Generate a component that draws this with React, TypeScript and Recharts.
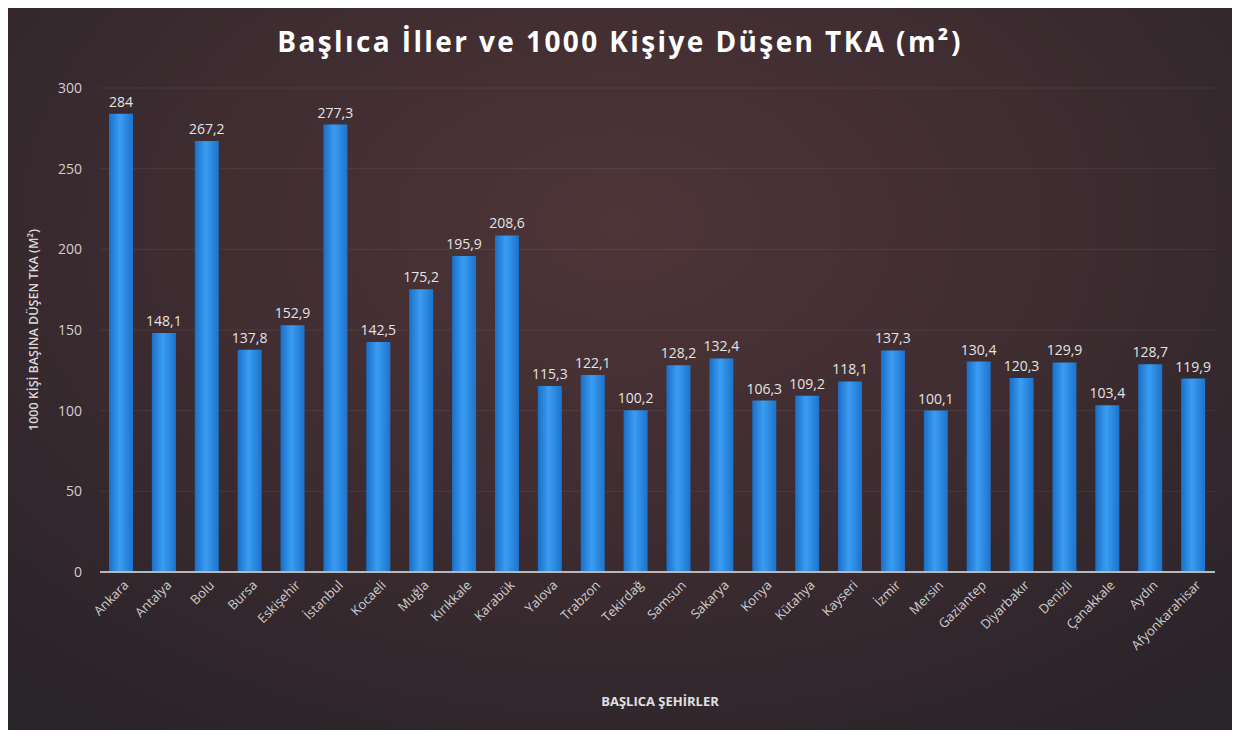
import { BarChart, Bar, XAxis, YAxis, CartesianGrid, LabelList } from 'recharts';

const CITIES = [
  'Ankara', 'Antalya', 'Bolu', 'Bursa', 'Eskişehir', 'İstanbul', 'Kocaeli', 'Muğla', 'Kırıkkale',
  'Karabük', 'Yalova', 'Trabzon', 'Tekirdağ', 'Samsun', 'Sakarya', 'Konya', 'Kütahya', 'Kayseri',
  'İzmir', 'Mersin', 'Gaziantep', 'Diyarbakır', 'Denizli', 'Çanakkale', 'Aydın', 'Afyonkarahisar',
];
const TKA = [
  284, 148.1, 267.2, 137.8, 152.9, 277.3, 142.5, 175.2, 195.9,
  208.6, 115.3, 122.1, 100.2, 128.2, 132.4, 106.3, 109.2, 118.1,
  137.3, 100.1, 130.4, 120.3, 129.9, 103.4, 128.7, 119.9,
];
const Y_TICKS = [0, 50, 100, 150, 200, 250, 300];

const data = CITIES.map((city, i) => ({ city, value: TKA[i] }));

const FONT = '"Open Sans", Lato, sans-serif';

const fmt = (v: number) => String(v).replace('.', ',');

function CityTick({ x, y, payload }: any) {
  return (
    <g transform={`translate(${x + 8},${y + 6})`}>
      <text
        textAnchor="end"
        transform="rotate(-45)"
        fontSize={13}
        fill="#cfcfcf"
        fontFamily={FONT}
      >
        {payload.value}
      </text>
    </g>
  );
}

export default function App() {
  return (
    <div
      style={{
        position: 'relative',
        width: 1224,
        height: 722,
        background:
          'radial-gradient(ellipse 75% 85% at 50% 30%, #4e3538 0%, #3f2d31 45%, #29232a 100%)',
        fontFamily: FONT,
      }}
    >
      <div
        style={{
          position: 'absolute',
          top: 14,
          left: 0,
          width: '100%',
          textAlign: 'center',
          color: '#ffffff',
          fontWeight: 700,
          fontSize: 28,
          letterSpacing: 2.4,
        }}
      >
        Başlıca İller ve 1000 Kişiye Düşen TKA (m²)
      </div>
      <div
        style={{
          position: 'absolute',
          left: 25,
          top: 322,
          transform: 'translate(-50%, -50%) rotate(-90deg)',
          color: '#d8d8d8',
          fontWeight: 600,
          fontSize: 12.5,
          whiteSpace: 'nowrap',
        }}
      >
        1000 KİŞİ BAŞINA DÜŞEN TKA (M²)
      </div>
      <div
        style={{
          position: 'absolute',
          top: 684,
          left: 652,
          transform: 'translateX(-50%)',
          color: '#e0e0e0',
          fontWeight: 700,
          fontSize: 13,
          whiteSpace: 'nowrap',
        }}
      >
        BAŞLICA ŞEHİRLER
      </div>
      <BarChart
        width={1224}
        height={722}
        data={data}
        margin={{ top: 80, right: 17, left: 32, bottom: 58 }}
      >
        <defs>
          <linearGradient id="barFill" x1="0" y1="0" x2="1" y2="0">
            <stop offset="0%" stopColor="#1b6ec6" />
            <stop offset="45%" stopColor="#3a9df2" />
            <stop offset="100%" stopColor="#1d73cc" />
          </linearGradient>
        </defs>
        <CartesianGrid vertical={false} stroke="#ffffff" strokeOpacity={0.07} />
        <XAxis
          dataKey="city"
          interval={0}
          height={100}
          tick={<CityTick />}
          tickLine={false}
          axisLine={{ stroke: '#b8b8b8', strokeWidth: 2 }}
        />
        <YAxis
          width={60}
          domain={[0, 300]}
          ticks={Y_TICKS}
          axisLine={false}
          tickLine={false}
          tickMargin={12}
          tick={{ fill: '#d0d0d0', fontSize: 14, fontFamily: FONT }}
        />
        <Bar dataKey="value" fill="url(#barFill)" barSize={24} isAnimationActive={false}>
          <LabelList
            dataKey="value"
            position="top"
            offset={7}
            formatter={(v: any) => fmt(v)}
            style={{ fill: '#e4e4e4', fontSize: 14, fontFamily: FONT }}
          />
        </Bar>
      </BarChart>
    </div>
  );
}
